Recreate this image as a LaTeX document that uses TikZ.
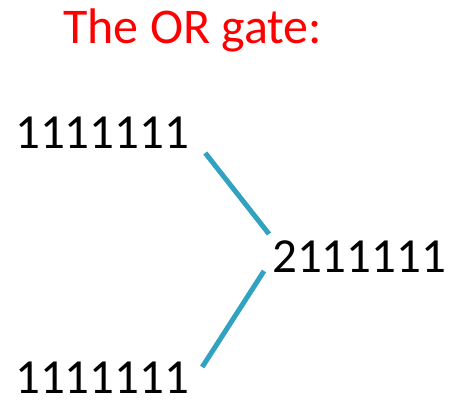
\documentclass[tikz,border=0pt]{standalone}
\usepackage{fontspec}
\setmainfont{Carlito}
\definecolor{wireblue}{RGB}{49,163,192}
\tikzset{
  bits/.style={inner sep=0pt,anchor=base west,font=\fontsize{49}{49}\selectfont},
  wire/.style={wireblue,line width=5pt}
}

\begin{document}
\begin{tikzpicture}[x=1pt,y=1pt]
  \useasboundingbox (0,0) rectangle (454,399);
  \node[inner sep=0pt,anchor=base west,text=red,font=\fontsize{50}{50}\selectfont] at (63,355) (title) {The OR gate:};
  \node[bits] at (15,250) (in1) {1111111};  %upper input
  \node[bits] at (15,6) (in2) {1111111};    %lower input
  \node[bits] at (272,127) (out) {2111111}; %result
  \draw[wire] ([shift={(16,-4)}]in1.base east) -- ([shift={(-3,38)}]out.base west);
  \draw[wire] ([shift={(13,26)}]in2.base east) -- ([shift={(-8,1)}]out.base west);
\end{tikzpicture}
\end{document}
